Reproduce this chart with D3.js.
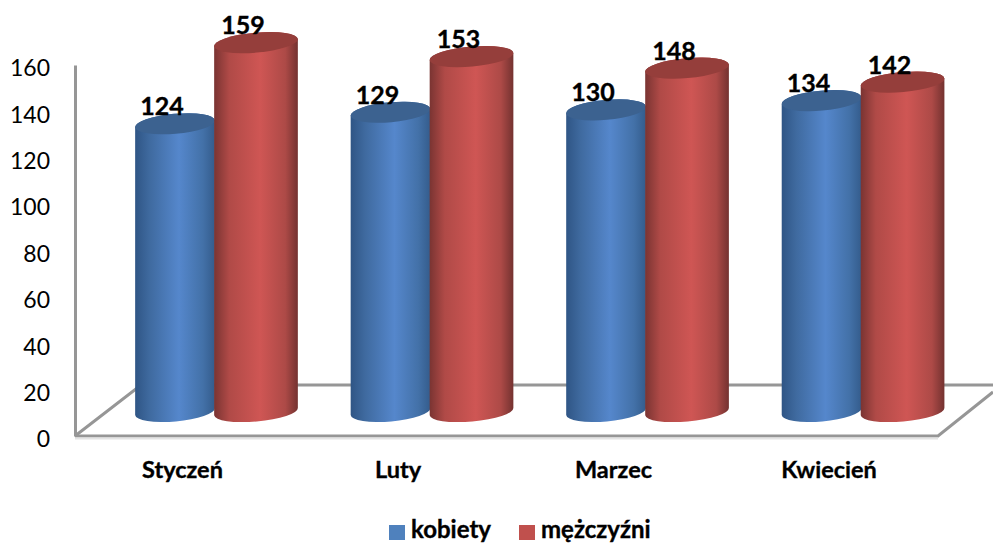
<!DOCTYPE html>
<html>
<head>
<meta charset="utf-8">
<script src="https://d3js.org/d3.v7.min.js"></script>
<style>
  html, body { margin: 0; padding: 0; background: #fff; overflow: hidden; }
  text { font-family: Lato, "Open Sans", sans-serif; fill: #000; }
  .bold { stroke: #000; stroke-width: 0.35; }
</style>
</head>
<body>
<div id="chart"></div>
<script>
const categories = ["Styczeń", "Luty", "Marzec", "Kwiecień"];
const seriesNames = ["kobiety", "mężczyźni"];
const kobiety = [124, 129, 130, 134];
const mezczyzni = [159, 153, 148, 142];
const yTicks = [0, 20, 40, 60, 80, 100, 120, 140, 160];

const width = 993, height = 543;
const wallColor = "#969696";
const tilt = -5;      // the cylinder ends lean a little
const ry = 10;

const svg = d3.select("#chart").append("svg")
    .attr("width", width)
    .attr("height", height);

const defs = svg.append("defs");
function addGradient(id, stops) {
    const g = defs.append("linearGradient").attr("id", id);
    stops.forEach(s => g.append("stop").attr("offset", s[0]).attr("stop-color", s[1]));
}
addGradient("gradBlue", [[0, "#2f5585"], [0.18, "#3f6a9f"], [0.55, "#5587cc"], [0.85, "#4371a8"], [1, "#345c8c"]]);
addGradient("gradRed", [[0, "#7a3432"], [0.18, "#b04a47"], [0.55, "#cf5654"], [0.85, "#ad4a47"], [1, "#743230"]]);

const series = [
    { name: seriesNames[0], values: kobiety, fill: "url(#gradBlue)", top: "#3c6290", swatch: "#4f81bd", offset: 0, w: 80 },
    { name: seriesNames[1], values: mezczyzni, fill: "url(#gradRed)", top: "#953e3b", swatch: "#c0504d", offset: 79, w: 84 }
];

// front of the floor carries the axis, bars stand further back
const yAxisScale = d3.scaleLinear().domain([0, 160]).range([436, 65]);
const yBar = d3.scaleLinear().domain([0, 160]).range([411.5, 40.3]);
const x = d3.scaleBand().domain(categories).range([135, 944.5]).paddingInner(0.244);
const xLabel = d3.scaleBand().domain(categories).range([101, 910.5]).paddingInner(0.244);

// floor and wall lines
const wall = svg.append("g")
    .attr("fill", "none")
    .attr("stroke", wallColor)
    .attr("stroke-width", 3);
wall.append("path").attr("d", "M75,436 L141,385 L993,385");
wall.append("path").attr("d", "M75,436 L938,436 L993,392");
svg.append("path").attr("d", "M75,438.5 L938,438.5")
    .attr("fill", "none").attr("stroke", "#e4e4e4").attr("stroke-width", 2);

// y axis
const yAxis = svg.append("g")
    .attr("transform", "translate(75,0)")
    .call(d3.axisLeft(yAxisScale).tickValues(yTicks).tickSize(0).tickPadding(25));
yAxis.select(".domain").attr("stroke", wallColor).attr("stroke-width", 3);
yAxis.selectAll("text")
    .attr("font-size", 23)
    .attr("dy", "0.47em")
    .style("font-family", "Lato, 'Open Sans', sans-serif")
    .attr("fill", "#000");

// cylinders
function cylinderPath(cx, yTop, yBase, rx) {
    const a = tilt * Math.PI / 180;
    const dx = rx * Math.cos(a), dy = rx * Math.sin(a);
    return `M${cx - dx},${yTop - dy} L${cx - dx},${yBase - dy}` +
        ` A${rx},${ry} ${tilt} 0 0 ${cx + dx},${yBase + dy}` +
        ` L${cx + dx},${yTop + dy}` +
        ` A${rx},${ry} ${tilt} 0 0 ${cx - dx},${yTop - dy} Z`;
}

const groups = svg.selectAll(".group")
    .data(categories)
    .enter().append("g")
    .attr("class", "group");

groups.each(function (cat, i) {
    const g = d3.select(this);
    series.forEach(s => {
        const rx = s.w / 2;
        const cx = x(cat) + s.offset + rx;
        const yTop = yBar(s.values[i]);
        g.append("path")
            .attr("d", cylinderPath(cx, yTop, yBar(0), rx))
            .attr("fill", s.fill);
        g.append("ellipse")
            .attr("rx", rx)
            .attr("ry", ry)
            .attr("transform", `translate(${cx},${yTop}) rotate(${tilt})`)
            .attr("fill", s.top);
    });
});

// data labels go on top of every bar
categories.forEach((cat, i) => {
    series.forEach(s => {
        svg.append("text")
            .attr("class", "bold")
            .attr("x", x(cat) + s.offset + s.w / 2 - 13)
            .attr("y", yBar(s.values[i]) - 8.5)
            .attr("text-anchor", "middle")
            .attr("font-size", 25)
            .attr("font-weight", 700)
            .text(s.values[i]);
    });
});

// category labels
svg.selectAll(".cat")
    .data(categories)
    .enter().append("text")
    .attr("class", "cat bold")
    .attr("x", d => xLabel(d) + xLabel.bandwidth() / 2)
    .attr("y", 478)
    .attr("text-anchor", "middle")
    .attr("font-size", 23.5)
    .attr("font-weight", 700)
    .text(d => d);

// legend
const legendX = [389, 519];
series.forEach((s, i) => {
    svg.append("rect")
        .attr("x", legendX[i])
        .attr("y", 525)
        .attr("width", 16)
        .attr("height", 15)
        .attr("fill", s.swatch);
    svg.append("text")
        .attr("class", "bold")
        .attr("x", legendX[i] + 22)
        .attr("y", 538)
        .attr("font-size", 24)
        .attr("font-weight", 700)
        .text(s.name);
});
</script>
</body>
</html>
